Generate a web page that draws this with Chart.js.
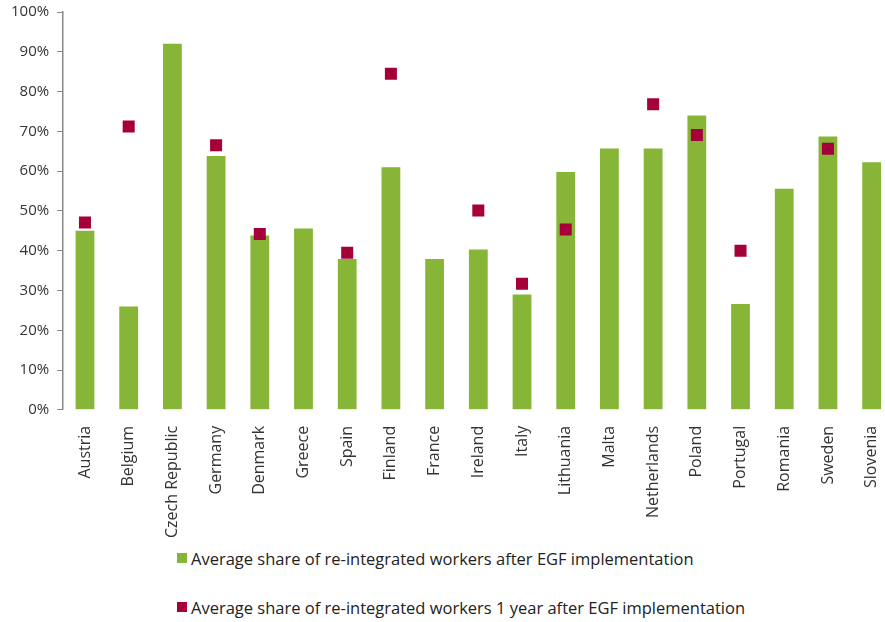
<!DOCTYPE html>
<html>
<head>
<meta charset="utf-8">
<title>EGF re-integration rates</title>
<script src="https://cdn.jsdelivr.net/npm/chart.js@4/dist/chart.umd.min.js"></script>
<style>
  html, body { margin: 0; padding: 0; background: #fff; overflow: hidden; }
  body { width: 885px; height: 622px; position: relative; }
  #wrap { position: absolute; left: 0; top: -5px; width: 902px; height: 551px; }
  #legend { position: absolute; left: 177px; top: 546px; font-family: "Open Sans", sans-serif; font-size: 16.5px; color: #222; }
  #legend div { display: flex; align-items: center; height: 24px; margin-bottom: 25px; }
  #legend span.box { display: inline-block; width: 10px; height: 10px; margin-right: 4px; }
</style>
</head>
<body>
<div id="wrap"><canvas id="egfChart"></canvas></div>
<div id="legend"></div>
<script>
const countries = ["Austria", "Belgium", "Czech Republic", "Germany", "Denmark", "Greece", "Spain",
  "Finland", "France", "Ireland", "Italy", "Lithuania", "Malta", "Netherlands", "Poland",
  "Portugal", "Romania", "Sweden", "Slovenia"];

// share of workers re-integrated at the end of the EGF measure (%)
const afterImplementation = [45, 26, 92, 63.8, 43.8, 45.6, 37.9, 61, 37.9, 40.3, 29, 59.8,
  65.7, 65.7, 74, 26.6, 55.6, 68.7, 62.2];

// same share one year later, only where it was reported (%)
const oneYearAfter = [47.1, 71.2, null, 66.5, 44.2, null, 39.5, 84.5, null, 50.1, 31.7, 45.3,
  null, 76.8, 69.1, 40, null, 65.6, null];

const yTicks = [0, 10, 20, 30, 40, 50, 60, 70, 80, 90, 100];

const seriesNames = [
  "Average share of re-integrated workers after EGF implementation",
  "Average share of re-integrated workers 1 year after EGF implementation"
];

const green = "#86b537";
const crimson = "#a5003a";
const font = "'Open Sans', sans-serif";

const chart = new Chart(document.getElementById("egfChart"), {
  data: {
    labels: countries,
    datasets: [
      {
        type: "line",
        label: seriesNames[1],
        data: oneYearAfter,
        showLine: false,
        pointStyle: "rect",
        pointRadius: 8.5,
        pointHoverRadius: 8.5,
        pointBackgroundColor: crimson,
        pointBorderWidth: 0,
        order: 0
      },
      {
        type: "bar",
        label: seriesNames[0],
        data: afterImplementation,
        backgroundColor: green,
        categoryPercentage: 1,
        barPercentage: 0.43,
        order: 1
      }
    ]
  },
  options: {
    responsive: true,
    maintainAspectRatio: false,
    animation: false,
    layout: { padding: { left: 3, top: 7, right: 0, bottom: 0 } },
    plugins: {
      legend: { display: false },
      tooltip: { enabled: false }
    },
    scales: {
      x: {
        grid: { display: false },
        border: { display: false },
        ticks: {
          minRotation: 90,
          maxRotation: 90,
          autoSkip: false,
          padding: 8,
          color: "#333",
          font: { family: font, size: 16 }
        }
      },
      y: {
        min: 0,
        max: 100,
        afterBuildTicks: function (axis) {
          axis.ticks = yTicks.map(function (v) { return { value: v }; });
        },
        grid: { drawOnChartArea: false, drawTicks: true, tickLength: 6, color: "#888" },
        border: { display: true, color: "#888", width: 1.5 },
        ticks: {
          padding: 8,
          color: "#333",
          font: { family: font, size: 15 },
          callback: function (v) { return v + "%"; }
        }
      }
    }
  }
});

// legend: one entry per row under the chart
const legend = document.getElementById("legend");
[[seriesNames[0], green], [seriesNames[1], crimson]].forEach(function (item) {
  const row = document.createElement("div");
  const box = document.createElement("span");
  box.className = "box";
  box.style.background = item[1];
  row.appendChild(box);
  row.appendChild(document.createTextNode(item[0]));
  legend.appendChild(row);
});
</script>
</body>
</html>
